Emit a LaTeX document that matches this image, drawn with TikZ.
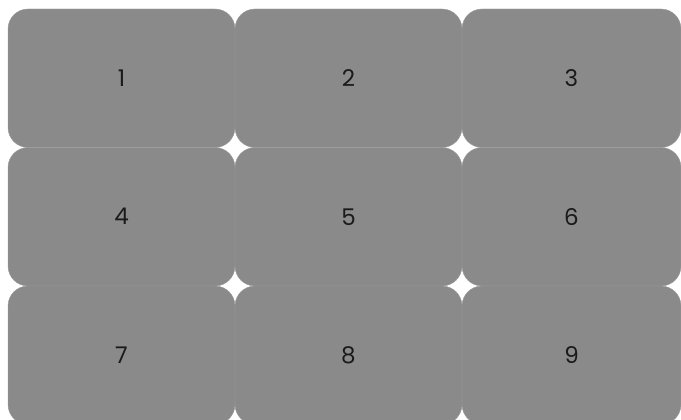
\documentclass[tikz,border=0pt]{standalone}
\usepackage{fontspec}
\setmainfont{Poppins}
\definecolor{cellgray}{HTML}{8A8A8A}
\definecolor{cellline}{HTML}{9C9C9C}
\definecolor{digitcol}{HTML}{1A1A1A}
\tikzset{
  cell/.style={rectangle, rounded corners=20pt, fill=cellgray, draw=cellline,
    line width=0.4pt, minimum height=138.5pt,
    outer sep=0pt, text=digitcol, font=\fontsize{23}{27}\selectfont}
}
\begin{document}
\begin{tikzpicture}[x=1pt,y=-1pt]
\clip (0,0) rectangle (681,420);
\useasboundingbox (0,0) rectangle (681,420);
% 3x3 grid of tiles, last column cut short by the frame
\foreach \r in {0,1,2}{
  \foreach \c in {0,1,2}{
    \pgfmathtruncatemacro{\n}{3*\r+\c+1}
    \pgfmathsetmacro{\w}{\c==2 ? 219 : 227}
    \node[cell, minimum width=\w pt] (c\n) at (8+227*\c+\w/2, 78.25+138.5*\r) {\n};
  }
}
\end{tikzpicture}
\end{document}
